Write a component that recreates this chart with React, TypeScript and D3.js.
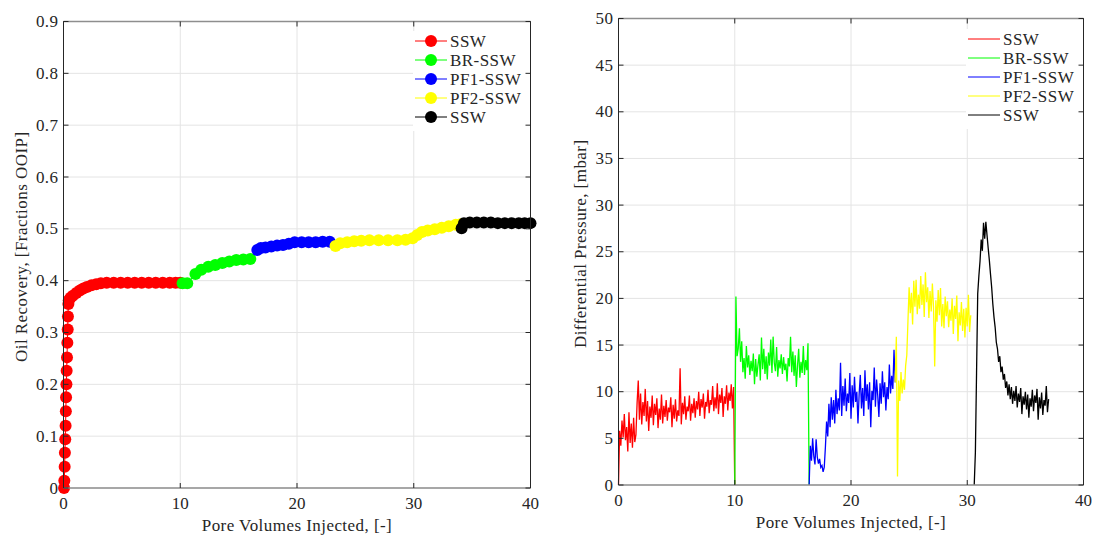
import React from "react";
import * as d3 from "d3";

// ---- left panel: oil recovery vs PV (markers + line)
const pvSSW1 = [0.05, 0.07, 0.1, 0.12, 0.15, 0.18, 0.2, 0.22, 0.25, 0.27, 0.3, 0.33, 0.36, 0.38, 0.42, 0.45, 0.6, 0.8, 1.1, 1.4, 1.7, 2.0, 2.4, 2.8, 3.2, 3.7, 4.3, 4.9, 5.5, 6.1, 6.7, 7.3, 7.9, 8.5, 9.1, 9.6, 10.0];
const recSSW1 = [0, 0.014, 0.041, 0.068, 0.094, 0.12, 0.148, 0.175, 0.2, 0.226, 0.252, 0.28, 0.306, 0.331, 0.355, 0.362, 0.367, 0.371, 0.376, 0.381, 0.385, 0.388, 0.391, 0.393, 0.395, 0.396, 0.396, 0.396, 0.396, 0.396, 0.396, 0.396, 0.396, 0.396, 0.396, 0.396, 0.396];
const pvBR = [10.2, 10.6, 11.3, 11.8, 12.4, 13.0, 13.6, 14.2, 14.8, 15.4, 16.0];
const recBR = [0.395, 0.395, 0.413, 0.421, 0.427, 0.43, 0.434, 0.437, 0.44, 0.441, 0.442];
const pvPF1 = [16.6, 16.9, 17.3, 17.8, 18.3, 18.8, 19.3, 19.8, 20.4, 21.0, 21.6, 22.2, 22.8];
const recPF1 = [0.459, 0.463, 0.464, 0.466, 0.468, 0.469, 0.471, 0.474, 0.474, 0.474, 0.474, 0.475, 0.475];
const pvPF2 = [23.3, 23.7, 24.3, 24.9, 25.5, 26.2, 27.0, 27.8, 28.6, 29.3, 29.9, 30.3, 30.7, 31.2, 31.8, 32.4, 33.0, 33.6, 34.0];
const recPF2 = [0.467, 0.472, 0.474, 0.476, 0.477, 0.478, 0.478, 0.478, 0.478, 0.479, 0.482, 0.488, 0.494, 0.497, 0.499, 0.502, 0.505, 0.508, 0.509];
const pvSSW2 = [34.1, 34.3, 34.8, 35.4, 36.0, 36.6, 37.2, 37.8, 38.4, 39.0, 39.5, 40.0];
const recSSW2 = [0.501, 0.511, 0.512, 0.512, 0.512, 0.512, 0.511, 0.511, 0.511, 0.511, 0.511, 0.511];

// ---- right panel: differential pressure, sampled every 0.1 PV from each start
const dpStep = 0.1;
const dpStartSSW1 = 0;
const dpSSW1 = [0, 5.8, 4.2, 6.9, 5.1, 7.6, 4.8, 6.2, 3.6, 7.8, 4.5, 6.6, 4.0, 7.2, 4.6, 5.4, 8.8, 11.2, 7.0, 9.8,
  6.5, 8.9, 7.4, 10.3, 6.8, 9.0, 5.8, 8.4, 7.2, 9.6, 6.4, 8.7, 7.5, 9.3, 6.1, 8.2, 7.0, 9.7, 6.6, 8.5,
  7.3, 9.1, 6.9, 8.3, 7.8, 9.4, 6.2, 8.6, 7.1, 9.2, 6.8, 8.0, 7.4, 12.5, 6.5, 8.8, 7.6, 9.5, 7.0, 8.4,
  7.9, 9.6, 6.9, 8.7, 7.7, 9.3, 7.2, 9.0, 8.1, 10.0, 7.4, 9.2, 8.3, 9.8, 7.1, 8.9, 8.4, 10.2, 7.7, 9.1,
  8.6, 10.6, 7.9, 9.4, 8.2, 10.9, 7.6, 9.7, 8.8, 10.4, 7.3, 9.5, 8.7, 10.7, 8.0, 9.9, 9.0, 10.8, 8.2, 10.5, 0];
const dpStartBR = 10.0;
const dpBR = [0, 20.2, 13.8, 14.6, 16.8, 13.2, 15.4, 12.1, 13.6, 11.4, 14.9, 12.6, 13.9, 11.8, 13.3, 12.2, 14.1, 10.8, 13.5, 11.6,
  12.9, 14.0, 11.2, 15.8, 12.4, 14.6, 11.9, 13.8, 11.3, 14.2, 12.8, 15.6, 12.0, 15.9, 13.1, 12.2, 14.8, 11.6, 13.4, 12.5,
  14.0, 11.9, 13.7, 12.3, 13.0, 11.1, 13.6, 12.7, 15.9, 12.1, 14.3, 11.7, 13.9, 10.5, 12.8, 14.6, 11.5, 13.2, 12.0, 14.9,
  11.8, 13.4, 12.3, 15.2, 0];
const dpStartPF1 = 16.4;
const dpPF1 = [0, 4.2, 2.6, 5.0, 3.1, 2.2, 4.9, 3.0, 2.3, 2.8, 1.9, 2.1, 1.4, 1.9, 4.1, 6.8, 5.2, 8.7, 6.2, 9.4,
  7.0, 9.1, 6.6, 10.2, 7.6, 9.3, 8.0, 13.1, 7.4, 10.6, 8.5, 11.4, 7.9, 9.8, 8.8, 12.0, 7.1, 10.7, 8.3, 11.6,
  8.9, 10.0, 6.6, 9.7, 11.8, 8.2, 10.4, 7.4, 12.3, 9.0, 10.8, 8.1, 11.0, 6.2, 10.1, 9.1, 12.6, 8.4, 11.3, 9.6,
  7.3, 10.9, 8.7, 12.2, 9.4, 11.0, 8.0, 10.5, 9.2, 12.9, 9.8, 11.7, 10.3, 14.5, 11.0];
const dpStartPF2 = 23.8;
const dpPF2 = [11.0, 15.9, 0.9, 11.2, 9.0, 12.1, 9.8, 11.3, 10.2, 12.8, 13.9, 17.6, 21.2, 18.4, 20.6, 17.2, 21.9, 19.1, 22.0, 18.3,
  20.4, 18.9, 22.4, 19.3, 21.5, 18.0, 22.8, 19.6, 21.2, 17.9, 20.8, 18.6, 21.6, 19.0, 12.7, 19.8, 17.5, 20.9, 18.2, 21.1,
  17.0, 19.4, 16.8, 20.2, 18.1, 19.7, 16.9, 18.8, 17.6, 20.0, 16.2, 19.2, 17.8, 20.3, 15.4, 18.5, 17.1, 19.6, 16.5, 18.9,
  15.8, 19.0, 17.0, 20.4, 16.4, 18.2];
const dpStartSSW2 = 30.6;
const dpSSW2 = [0, 3.5, 12.0, 20.5, 22.4, 24.0, 26.3, 25.1, 28.1, 26.4, 28.2, 26.8, 25.4, 24.1, 22.6, 21.2, 19.4, 18.0, 16.9, 15.3,
  14.6, 13.2, 13.8, 12.1, 12.7, 11.3, 11.9, 10.4, 11.1, 9.6, 10.8, 9.2, 10.5, 8.7, 10.1, 9.0, 10.6, 8.3, 9.8, 8.9,
  10.4, 7.6, 9.5, 8.6, 10.0, 8.1, 9.7, 7.2, 9.3, 8.4, 10.2, 7.9, 9.6, 8.8, 10.3, 7.0, 9.4, 8.2, 9.9, 7.5,
  9.1, 8.5, 10.6, 7.8, 9.2];

const seriesNames = ["SSW", "BR-SSW", "PF1-SSW", "PF2-SSW", "SSW"];
const seriesColors = ["#ff0000", "#00ff00", "#0000ff", "#ffff00", "#000000"];
const xTicks = [0, 10, 20, 30, 40];
const recTicks = [0, 0.1, 0.2, 0.3, 0.4, 0.5, 0.6, 0.7, 0.8, 0.9];
const dpTicks = [0, 5, 10, 15, 20, 25, 30, 35, 40, 45, 50];

const FONT = "'Liberation Serif', 'Times New Roman', serif";
const TXT = "#262626";
const GRID = "#e4e4e4";
const FS = 17;
const LS = 0.45; // letter spacing to widen Times toward the LaTeX look

type P = { x: number; y: number };

const recData: P[][] = [
  [pvSSW1, recSSW1], [pvBR, recBR], [pvPF1, recPF1], [pvPF2, recPF2], [pvSSW2, recSSW2],
].map(([xs, ys]) => xs.map((x, i) => ({ x, y: ys[i] })));

const dpData: P[][] = [
  [dpStartSSW1, dpSSW1], [dpStartBR, dpBR], [dpStartPF1, dpPF1], [dpStartPF2, dpPF2], [dpStartSSW2, dpSSW2],
].map(([s, vals]) => (vals as number[]).map((v, i) => ({ x: (s as number) + i * dpStep, y: v })));

function Frame({ x, y, yTicks, fmt, yLabel, yLabelX, children }: any) {
  const [xl, xr] = x.range();
  const [yb, yt] = y.range();
  const tk = 5;
  return (
    <g>
      {xTicks.map((t) => (
        <line key={"gx" + t} x1={x(t)} x2={x(t)} y1={yb} y2={yt} stroke={GRID} />
      ))}
      {yTicks.map((t: number) => (
        <line key={"gy" + t} x1={xl} x2={xr} y1={y(t)} y2={y(t)} stroke={GRID} />
      ))}
      {children}
      <line x1={xl} x2={xr} y1={yt} y2={yt} stroke="#8e8e8e" strokeWidth={1.4} />
      <line x1={xl} x2={xr} y1={yb} y2={yb} stroke="#8e8e8e" strokeWidth={1.4} />
      <line x1={xl} x2={xl} y1={yb} y2={yt} stroke={TXT} />
      <line x1={xr} x2={xr} y1={yb} y2={yt} stroke={TXT} />
      {xTicks.map((t) => (
        <g key={"tx" + t}>
          <line x1={x(t)} x2={x(t)} y1={yb} y2={yb - tk} stroke={TXT} />
          <line x1={x(t)} x2={x(t)} y1={yt} y2={yt + tk} stroke={TXT} />
          <text x={x(t)} y={yb + 21} textAnchor="middle" fontSize={FS} fill={TXT}>{t}</text>
        </g>
      ))}
      {yTicks.map((t: number) => (
        <g key={"ty" + t}>
          <line x1={xl} x2={xl + tk} y1={y(t)} y2={y(t)} stroke={TXT} />
          <line x1={xr} x2={xr - tk} y1={y(t)} y2={y(t)} stroke={TXT} />
          <text x={xl - 5} y={y(t) + 5.5} textAnchor="end" fontSize={FS} letterSpacing={LS} fill={TXT}>{fmt(t)}</text>
        </g>
      ))}
      <text x={(xl + xr) / 2} y={yb + 43} textAnchor="middle" fontSize={FS} letterSpacing={LS} fill={TXT}>
        Pore Volumes Injected, [-]
      </text>
      <text transform={`translate(${yLabelX},${(yb + yt) / 2 - 8}) rotate(-90)`} textAnchor="middle" fontSize={FS} letterSpacing={LS} fill={TXT}>
        {yLabel}
      </text>
    </g>
  );
}

function Legend({ x0, y0, markers }: { x0: number; y0: number; markers: boolean }) {
  return (
    <g>
      <rect x={x0 - 2} y={y0 - 10} width={117} height={100} fill="#fff" />
      {seriesNames.map((n, i) => {
        const yy = y0 + i * 19;
        return (
          <g key={i}>
            <line x1={x0} x2={x0 + 32} y1={yy} y2={yy} stroke={seriesColors[i]} />
            {markers && <circle cx={x0 + 16} cy={yy} r={6} fill={seriesColors[i]} />}
            <text x={x0 + 35} y={yy + 5.5} fontSize={FS} letterSpacing={LS} fill={TXT}>{n}</text>
          </g>
        );
      })}
    </g>
  );
}

export default function App() {
  const xL = d3.scaleLinear().domain([0, 40]).range([63.5, 530.5]);
  const yL = d3.scaleLinear().domain([0, 0.9]).range([488, 21.5]);
  const xR = d3.scaleLinear().domain([0, 40]).range([618.5, 1083.5]);
  const yR = d3.scaleLinear().domain([0, 50]).range([485, 18.5]);

  const lineL = d3.line<P>().x((d) => xL(d.x)).y((d) => yL(d.y));
  const lineR = d3.line<P>().x((d) => xR(d.x)).y((d) => yR(d.y));

  return (
    <svg width={1094} height={537} style={{ position: "absolute", left: 0, top: 0, fontFamily: FONT, background: "#fff" }}>
      <rect width={1094} height={537} fill="#fff" />
      <Frame x={xL} y={yL} yTicks={recTicks} fmt={(t: number) => (t === 0 ? "0" : d3.format(".1f")(t))}
        yLabel="Oil Recovery, [Fractions OOIP]" yLabelX={27}>
        {recData.map((s, i) => (
          <g key={i}>
            <path d={lineL(s) || ""} fill="none" stroke={seriesColors[i]} />
            {s.map((d, j) => (
              <circle key={j} cx={xL(d.x)} cy={yL(d.y)} r={6} fill={seriesColors[i]} />
            ))}
          </g>
        ))}
        <Legend x0={415} y0={41} markers={true} />
      </Frame>
      <Frame x={xR} y={yR} yTicks={dpTicks} fmt={(t: number) => String(t)}
        yLabel="Differential Pressure, [mbar]" yLabelX={586}>
        {dpData.map((s, i) => (
          <path key={i} d={lineR(s) || ""} fill="none" stroke={seriesColors[i]} strokeWidth={1.3} />
        ))}
        <Legend x0={968} y0={39} markers={false} />
      </Frame>
    </svg>
  );
}
